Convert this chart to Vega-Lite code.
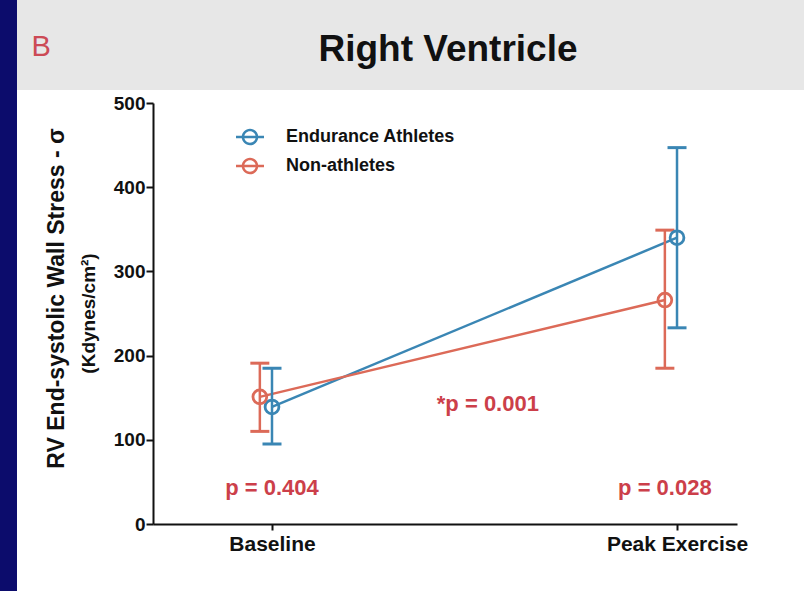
{
  "$schema": "https://vega.github.io/schema/vega-lite/v6.json",
  "width": 584,
  "height": 421,
  "autosize": {"type": "none"},
  "padding": {"left": 153, "top": 103, "right": 67, "bottom": 67},
  "background": "#0c0c6c",
  "config": {
    "view": {"stroke": null},
    "font": "Liberation Sans"
  },
  "datasets": {
    "series": [
      {"group": "Endurance Athletes", "stage": 0, "mean": 139, "lower": 95, "upper": 185},
      {"group": "Endurance Athletes", "stage": 1, "mean": 340, "lower": 233, "upper": 447},
      {"group": "Non-athletes", "stage": -0.03, "mean": 151, "lower": 110, "upper": 191},
      {"group": "Non-athletes", "stage": 0.97, "mean": 266, "lower": 185, "upper": 349}
    ],
    "notes": [
      {"stage": 0, "value": 43, "label": "p = 0.404"},
      {"stage": 0.97, "value": 43, "label": "p = 0.028"},
      {"stage": 0.533, "value": 142, "label": "*p = 0.001"}
    ]
  },
  "layer": [
    {
      "data": {"values": [{}]},
      "mark": {"type": "rect", "fill": "#ffffff", "clip": false},
      "encoding": {
        "x": {"datum": -0.6296, "type": "quantitative", "scale": {"domain": [-0.2938, 1.1481], "nice": false, "zero": false}},
        "x2": {"datum": 1.6},
        "y": {"datum": -120, "type": "quantitative", "scale": {"domain": [0, 500], "nice": false}},
        "y2": {"datum": 515.4}
      }
    },
    {
      "data": {"values": [{}]},
      "mark": {"type": "rect", "fill": "#e7e7e7", "clip": false},
      "encoding": {
        "x": {"datum": -0.6296, "type": "quantitative"},
        "x2": {"datum": 1.6},
        "y": {"datum": 515.4, "type": "quantitative"},
        "y2": {"datum": 700}
      }
    },
    {
      "data": {"values": [{}]},
      "mark": {"type": "text", "text": "B", "font": "Liberation Sans", "fontSize": 29, "color": "#cc4a55", "align": "left", "baseline": "middle"},
      "encoding": {
        "x": {"datum": -0.594, "type": "quantitative"},
        "y": {"datum": 567, "type": "quantitative"}
      }
    },
    {
      "data": {"values": [{}]},
      "mark": {"type": "text", "text": "Right Ventricle", "font": "Liberation Sans", "fontWeight": "bold", "fontSize": 37, "color": "#111111", "align": "center", "baseline": "middle"},
      "encoding": {
        "x": {"datum": 0.4346, "type": "quantitative"},
        "y": {"datum": 563, "type": "quantitative"}
      }
    },
    {
      "data": {"values": [{}]},
      "mark": {"type": "text", "text": "(Kdynes/cm²)", "font": "Liberation Sans", "fontWeight": "bold", "fontSize": 19, "color": "#111111", "angle": 270, "align": "center", "baseline": "middle"},
      "encoding": {
        "x": {"datum": -0.452, "type": "quantitative"},
        "y": {"datum": 250, "type": "quantitative"}
      }
    },
    {
      "data": {"name": "series"},
      "mark": {"type": "line", "strokeWidth": 2.5},
      "encoding": {
        "x": {
          "field": "stage", "type": "quantitative",
          "axis": {
            "values": [0, 1],
            "labelExpr": "datum.value == 0 ? 'Baseline' : 'Peak Exercise'",
            "title": null,
            "grid": false,
            "domainColor": "#111111",
            "domainWidth": 2,
            "tickColor": "#111111",
            "tickWidth": 2,
            "tickSize": 6,
            "labelFont": "Liberation Sans",
            "labelFontWeight": "bold",
            "labelFontSize": 21,
            "labelColor": "#111111",
            "labelPadding": 3,
            "zindex": 1
          }
        },
        "y": {
          "field": "mean", "type": "quantitative",
          "axis": {
            "values": [0, 100, 200, 300, 400, 500],
            "title": "RV End-systolic Wall Stress - σ",
            "titleFont": "Liberation Sans",
            "titleFontWeight": "bold",
            "titleFontSize": 23,
            "titleColor": "#111111",
            "titleX": -97,
            "titleY": 195,
            "titleAngle": 270,
            "titleAlign": "center",
            "titleBaseline": "middle",
            "grid": false,
            "domainColor": "#111111",
            "domainWidth": 2,
            "tickColor": "#111111",
            "tickWidth": 2,
            "tickSize": 7,
            "labelFont": "Liberation Sans",
            "labelFontWeight": "bold",
            "labelFontSize": 19,
            "labelColor": "#111111",
            "labelPadding": 1,
            "zindex": 1
          }
        },
        "color": {
          "field": "group", "type": "nominal",
          "scale": {"domain": ["Endurance Athletes", "Non-athletes"], "range": ["#3a86b4", "#dc6a58"]}
        }
      }
    },
    {
      "data": {"name": "series"},
      "mark": {"type": "rule", "strokeWidth": 2.5},
      "encoding": {
        "x": {"field": "stage", "type": "quantitative"},
        "y": {"field": "lower", "type": "quantitative"},
        "y2": {"field": "upper"},
        "color": {"field": "group", "type": "nominal"}
      }
    },
    {
      "data": {"name": "series"},
      "mark": {"type": "tick", "orient": "horizontal", "size": 19, "thickness": 3, "opacity": 1},
      "encoding": {
        "x": {"field": "stage", "type": "quantitative"},
        "y": {"field": "upper", "type": "quantitative"},
        "fill": {
          "field": "group", "type": "nominal",
          "scale": {"domain": ["Endurance Athletes", "Non-athletes"], "range": ["#3a86b4", "#dc6a58"]},
          "legend": null
        }
      }
    },
    {
      "data": {"name": "series"},
      "mark": {"type": "tick", "orient": "horizontal", "size": 19, "thickness": 3, "opacity": 1},
      "encoding": {
        "x": {"field": "stage", "type": "quantitative"},
        "y": {"field": "lower", "type": "quantitative"},
        "fill": {"field": "group", "type": "nominal", "legend": null}
      }
    },
    {
      "data": {"name": "series"},
      "mark": {"type": "point", "shape": "circle", "filled": false, "size": 190, "strokeWidth": 2.8, "opacity": 1},
      "encoding": {
        "x": {"field": "stage", "type": "quantitative"},
        "y": {"field": "mean", "type": "quantitative"},
        "color": {
          "field": "group", "type": "nominal",
          "legend": {
            "title": null,
            "orient": "none",
            "legendX": 83,
            "legendY": 20,
            "symbolType": "M-1,-0.09L1,-0.09L1,0.09L-1,0.09Z M0.59,0A0.59,0.59,0,1,1,-0.59,0A0.59,0.59,0,1,1,0.59,0Z M0.41,0A0.41,0.41,0,1,0,-0.41,0A0.41,0.41,0,1,0,0.41,0Z",
            "symbolSize": 784,
            "symbolStrokeWidth": 0,
            "symbolOpacity": 1,
            "labelFont": "Liberation Sans",
            "labelFontWeight": "bold",
            "labelFontSize": 18,
            "labelLimit": 400,
            "labelColor": "#111111",
            "labelOffset": 22,
            "rowPadding": 6,
            "zindex": 1
          }
        }
      }
    },
    {
      "data": {"name": "notes"},
      "mark": {"type": "text", "font": "Liberation Sans", "fontWeight": "bold", "fontSize": 22, "color": "#cc3f4a", "align": "center", "baseline": "middle"},
      "encoding": {
        "x": {"field": "stage", "type": "quantitative"},
        "y": {"field": "value", "type": "quantitative"},
        "text": {"field": "label"}
      }
    }
  ]
}
